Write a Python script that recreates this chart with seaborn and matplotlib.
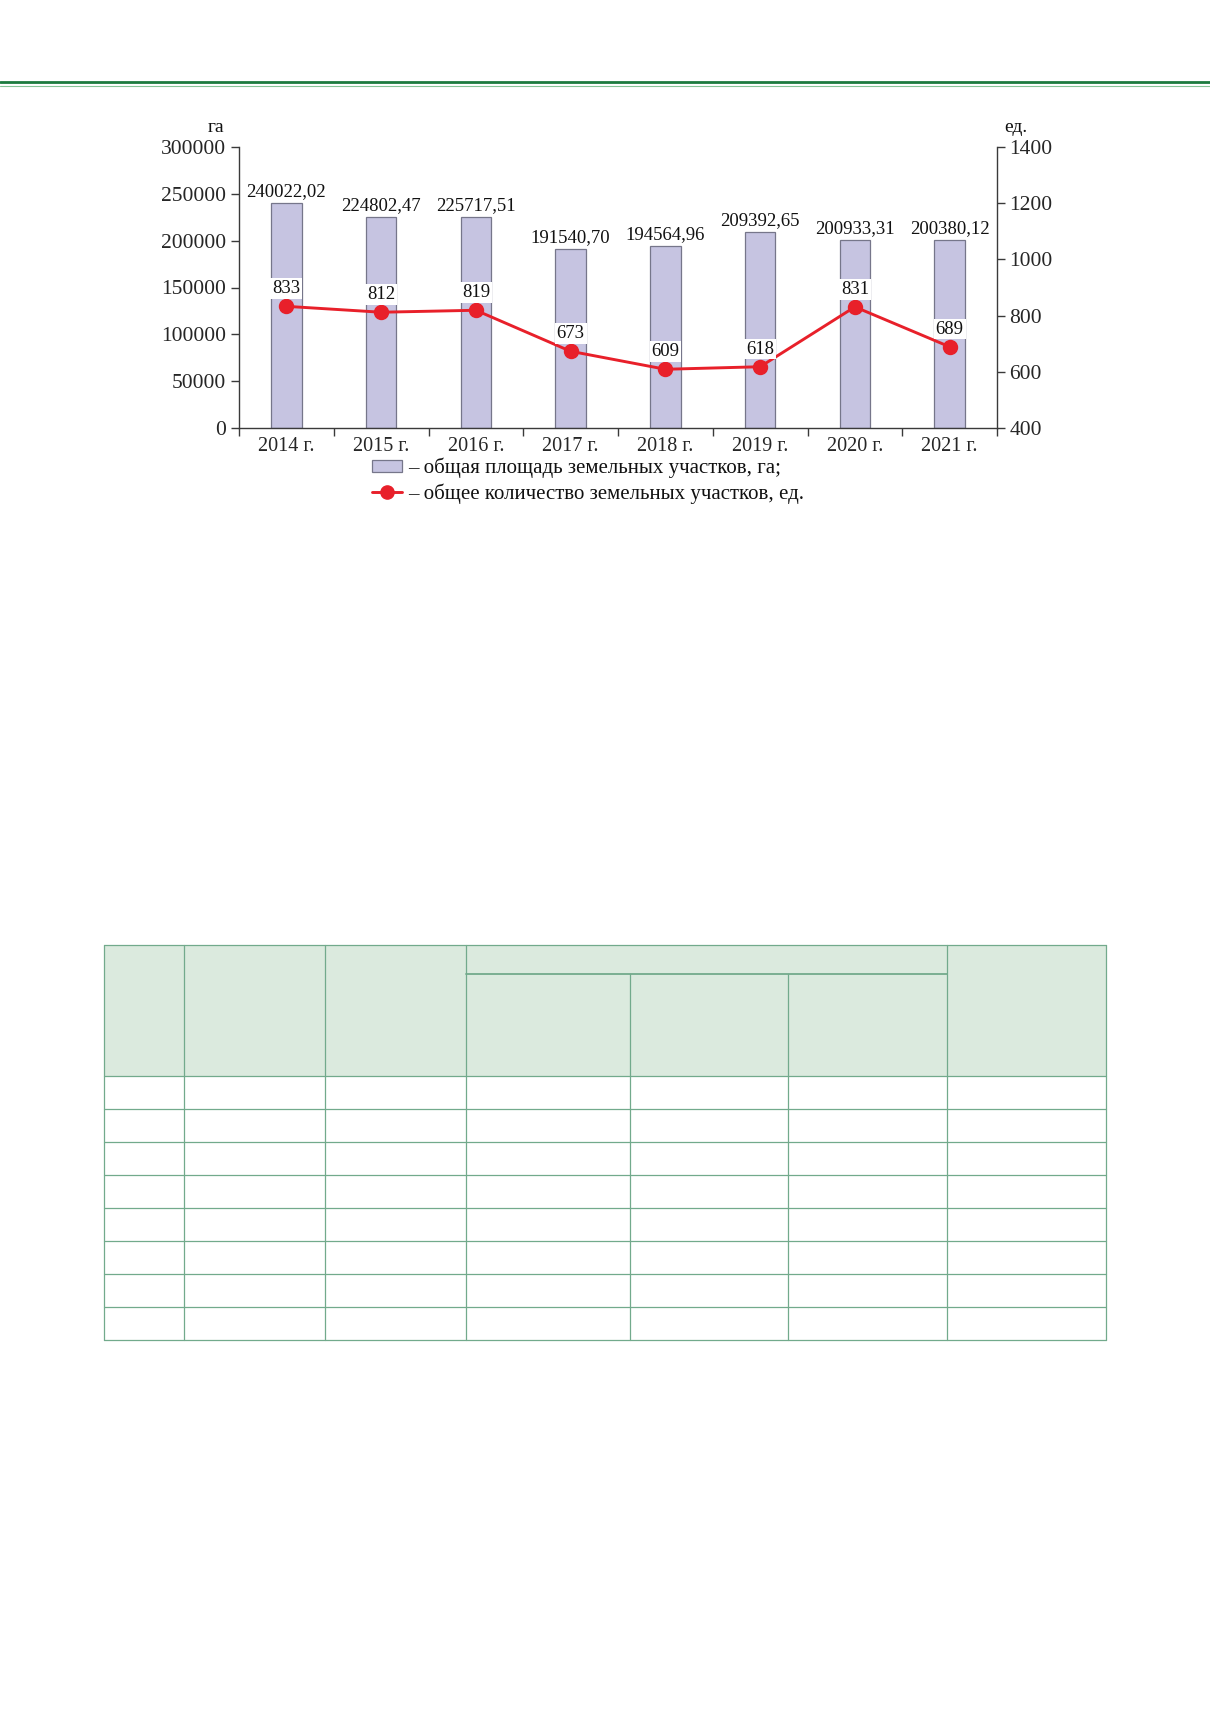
import numpy as np
import pandas as pd
import matplotlib.pyplot as plt
import seaborn as sns
from matplotlib.patches import Rectangle, Patch
from matplotlib.lines import Line2D

# chart data
years = ['2014 г.', '2015 г.', '2016 г.', '2017 г.', '2018 г.', '2019 г.', '2020 г.', '2021 г.']
area_ha = [240022.02, 224802.47, 225717.51, 191540.70, 194564.96, 209392.65, 200933.31, 200380.12]
area_labels = ['240022,02', '224802,47', '225717,51', '191540,70',
               '194564,96', '209392,65', '200933,31', '200380,12']
plots_count = [833, 812, 819, 673, 609, 618, 831, 689]

left_ticks = [0, 50000, 100000, 150000, 200000, 250000, 300000]
right_ticks = [400, 600, 800, 1000, 1200, 1400]
legend_labels = ['– общая площадь земельных участков, га;',
                 '– общее количество земельных участков, ед.']

BAR_FACE = '#c6c4e1'
BAR_EDGE = '#76768a'
LINE_RED = '#e8202a'
AXIS_COL = '#3a3a3a'
TABLE_LINE = '#72aa8c'
TABLE_FILL = '#dbeade'

W, H = 1210, 1712


def fx(x):
    return x / W


def fy(y):
    return 1 - y / H


sns.set_theme(style='white')
plt.rcParams['font.family'] = ['Liberation Serif', 'DejaVu Serif']
plt.rcParams['text.color'] = '#111111'

df = pd.DataFrame({'year': years, 'area': area_ha, 'count': plots_count})

fig = plt.figure(figsize=(W / 100, H / 100), dpi=100)

# green rule at the top of the page
fig.add_artist(Line2D([0, 1], [fy(82), fy(82)], transform=fig.transFigure, color='#1c7a3e', lw=2.0))
fig.add_artist(Line2D([0, 1], [fy(85.5), fy(85.5)], transform=fig.transFigure, color='#86c497', lw=0.8))

ax = fig.add_axes([fx(239), fy(428), fx(997) - fx(239), fy(147) - fy(428)])
sns.barplot(data=df, x='year', y='area', ax=ax, color=BAR_FACE, edgecolor=BAR_EDGE,
            linewidth=0.9, width=0.32, saturation=1)

ax2 = ax.twinx()
sns.pointplot(data=df, x='year', y='count', ax=ax2, color=LINE_RED, markers='o',
              markersize=9.5, linewidth=2.1, errorbar=None)

ax.set_ylim(0, 300000)
ax2.set_ylim(400, 1400)
ax.set_xlim(-0.5, len(years) - 0.5)
ax.set_yticks(left_ticks, labels=[str(t) for t in left_ticks])
ax2.set_yticks(right_ticks, labels=[str(t) for t in right_ticks])
ax.set_xticks(np.arange(-0.5, len(years)), labels=[''] * (len(years) + 1))
ax.set_xticks(np.arange(len(years)), labels=years, minor=True)
ax.set_xlabel('')
ax.set_ylabel('')
ax2.set_ylabel('')

ax.tick_params(axis='x', which='major', bottom=True, direction='out', length=5.5, width=1, color=AXIS_COL)
ax.tick_params(axis='x', which='minor', bottom=True, length=0, pad=6.5, labelsize=14.5)
ax.tick_params(axis='y', left=True, direction='out', length=5.8, width=1, pad=3.5,
               labelsize=15.5, color=AXIS_COL)
ax2.tick_params(axis='y', right=True, direction='out', length=5.8, width=1, pad=3,
                labelsize=15.5, color=AXIS_COL)

for a in (ax, ax2):
    a.spines['top'].set_visible(False)
    for s in a.spines.values():
        s.set_color(AXIS_COL)
        s.set_linewidth(1)
ax2.spines['left'].set_visible(False)
ax2.spines['bottom'].set_visible(False)
ax.spines['right'].set_visible(False)

for i, (v, lab) in enumerate(zip(area_ha, area_labels)):
    ax.annotate(lab, xy=(i, v), xytext=(0, 5), textcoords='offset points',
                ha='center', va='baseline', fontsize=13.5)

for i, c in enumerate(plots_count):
    ax2.annotate(str(c), xy=(i, c), xytext=(0, 9.5), textcoords='offset points',
                 ha='center', va='baseline', fontsize=13.5,
                 bbox=dict(boxstyle='square,pad=0.1', fc='white', ec='none'))

fig.text(fx(216), fy(127), 'га', ha='center', va='center', fontsize=14)
fig.text(fx(1004), fy(127), 'ед.', ha='left', va='center', fontsize=14)

handles = [Patch(facecolor=BAR_FACE, edgecolor=BAR_EDGE, linewidth=0.9),
           Line2D([], [], color=LINE_RED, lw=2.1, marker='o', markersize=9.5)]
fig.legend(handles, legend_labels, loc='upper left', bbox_to_anchor=(fx(372), fy(458)),
           frameon=False, fontsize=15, handlelength=1.45, handleheight=0.5,
           handletextpad=0.3, labelspacing=0.22, borderpad=0, borderaxespad=0)

# empty table below the chart
col_x = [103.5, 184, 325, 466, 630, 788, 947, 1106.3]
head_top, head_sub, head_bottom = 945.3, 973.7, 1075.7
row_h = 33
n_rows = 8
row_y = [head_bottom + row_h * k for k in range(n_rows + 1)]
table_bottom = row_y[-1]

fig.add_artist(Rectangle((fx(col_x[0]), fy(head_bottom)), fx(col_x[-1]) - fx(col_x[0]),
                         fy(head_top) - fy(head_bottom), transform=fig.transFigure,
                         facecolor=TABLE_FILL, edgecolor='none'))


def hline(y, x0, x1, lw=0.9):
    fig.add_artist(Line2D([fx(x0), fx(x1)], [fy(y), fy(y)], transform=fig.transFigure,
                          color=TABLE_LINE, lw=lw))


def vline(x, y0, y1, lw=0.9):
    fig.add_artist(Line2D([fx(x), fx(x)], [fy(y0), fy(y1)], transform=fig.transFigure,
                          color=TABLE_LINE, lw=lw))


hline(head_top, col_x[0], col_x[-1])
hline(head_sub, col_x[3], col_x[6], lw=1.3)
for y in row_y:
    hline(y, col_x[0], col_x[-1])
for j, x in enumerate(col_x):
    if j in (4, 5):
        vline(x, head_sub, table_bottom)
    else:
        vline(x, head_top, table_bottom)

fig.savefig('out.png', dpi=100)
